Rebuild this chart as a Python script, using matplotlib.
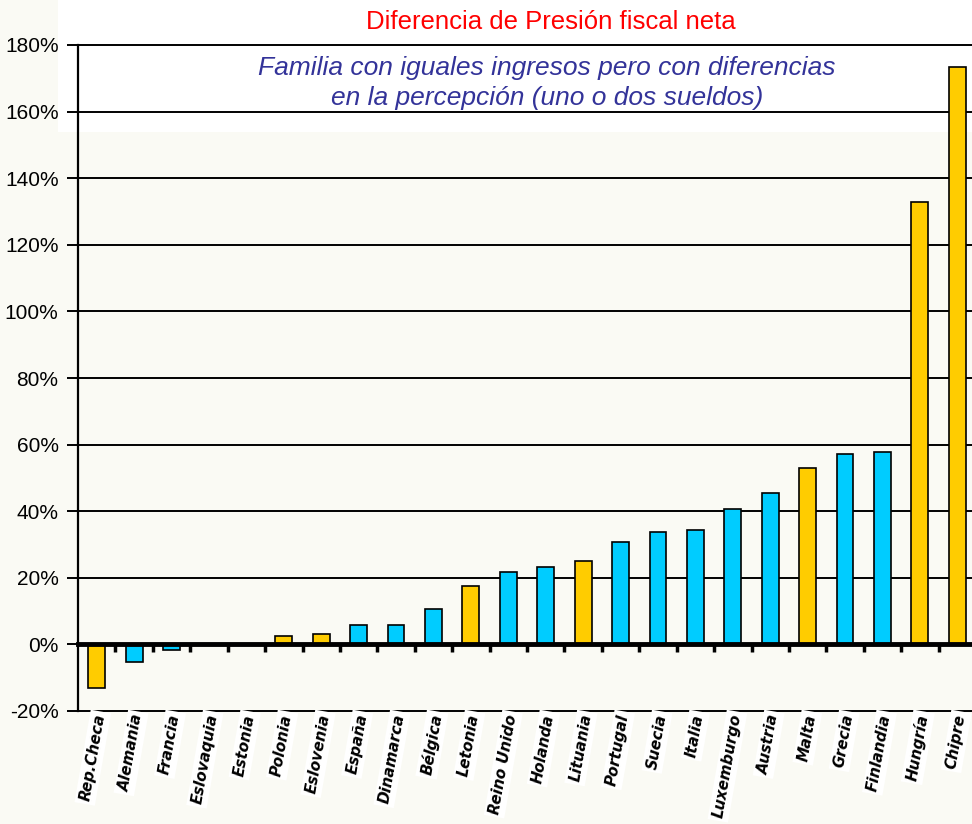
import numpy as np
import matplotlib.pyplot as plt
from matplotlib.patches import Rectangle
import matplotlib.transforms as mtransforms

# datos
paises = ['Rep.Checa', 'Alemania', 'Francia', 'Eslovaquia', 'Estonia', 'Polonia',
          'Eslovenia', 'España', 'Dinamarca', 'Bélgica', 'Letonia', 'Reino Unido',
          'Holanda', 'Lituania', 'Portugal', 'Suecia', 'Italia', 'Luxemburgo',
          'Austria', 'Malta', 'Grecia', 'Finlandia', 'Hungría', 'Chipre']
diferencia = [-13.0, -5.2, -1.8, 0.0, 0.0, 2.4, 3.0, 5.8, 5.8, 10.5, 17.6, 21.6,
              23.3, 25.1, 30.8, 33.8, 34.5, 40.8, 45.5, 53.0, 57.2, 57.8, 132.8, 173.5]
nuevos = [True, False, False, True, True, True, True, False, False, False, True, False,
          False, True, False, False, False, False, False, True, False, False, True, True]
yticks = [-20, 0, 20, 40, 60, 80, 100, 120, 140, 160, 180]

AMARILLO = '#FFCC00'
CELESTE = '#00CCFF'
FONDO = '#FAFAF4'

fig = plt.figure(figsize=(9.72, 8.24), dpi=100)
fig.patch.set_facecolor(FONDO)
# franja blanca superior
fig.patches.append(Rectangle((0.06, 1 - 132/824), 0.94, 132/824, transform=fig.transFigure,
                             facecolor='white', edgecolor='none', zorder=-5))

ax = fig.add_axes([78/972, 113/824, 898/972, 666/824])
ax.set_facecolor('none')

x = np.arange(len(paises))
colores = [AMARILLO if n else CELESTE for n in nuevos]
ax.bar(x, diferencia, width=0.45, color=colores, edgecolor='black', linewidth=1.2, zorder=3)

ax.set_xlim(-0.5, len(paises) - 0.5)
ax.set_ylim(-20, 180)
ax.set_yticks(yticks)
ax.set_yticklabels([f'{v}%' for v in yticks], fontsize=15, family='Liberation Sans')
for v in yticks:
    if v != 0:
        ax.axhline(v, color='black', linewidth=1.4, zorder=1, clip_on=False)
ax.tick_params(axis='y', length=8, width=1.4, pad=6)

# eje de categorias cruzando en 0
ax.spines['bottom'].set_position(('data', 0))
ax.spines['bottom'].set_linewidth(3.5)
ax.spines['bottom'].set_zorder(4)
ax.spines['left'].set_linewidth(1.6)
ax.spines['top'].set_visible(False)
ax.spines['right'].set_visible(False)
ax.set_xticks(x[:-1] + 0.5)
ax.set_xticklabels([])
ax.tick_params(axis='x', direction='out', length=6, width=2.5)

trans = mtransforms.blended_transform_factory(ax.transData, ax.transAxes)
for xi, nombre in zip(x, paises):
    ax.text(xi + 0.1, -0.005, nombre, transform=trans, rotation=80,
            rotation_mode='anchor', ha='right', va='center', fontsize=10.8,
            fontweight='bold', fontstyle='italic', family='DejaVu Sans',
            bbox=dict(facecolor='white', edgecolor='none', pad=2), zorder=5)

fig.text(551/972, 1 - 22/824, 'Diferencia de Presión fiscal neta', color='red',
         fontsize=18.5, family='Liberation Sans', ha='center', va='center')
fig.text(547/972, 1 - 83/824,
         'Familia con iguales ingresos pero con diferencias\nen la percepción (uno o dos sueldos)',
         color='#333399', fontsize=19, fontstyle='italic', family='Liberation Sans',
         ha='center', va='center', linespacing=1.35)

plt.savefig('out.png', dpi=100, facecolor=fig.get_facecolor())
